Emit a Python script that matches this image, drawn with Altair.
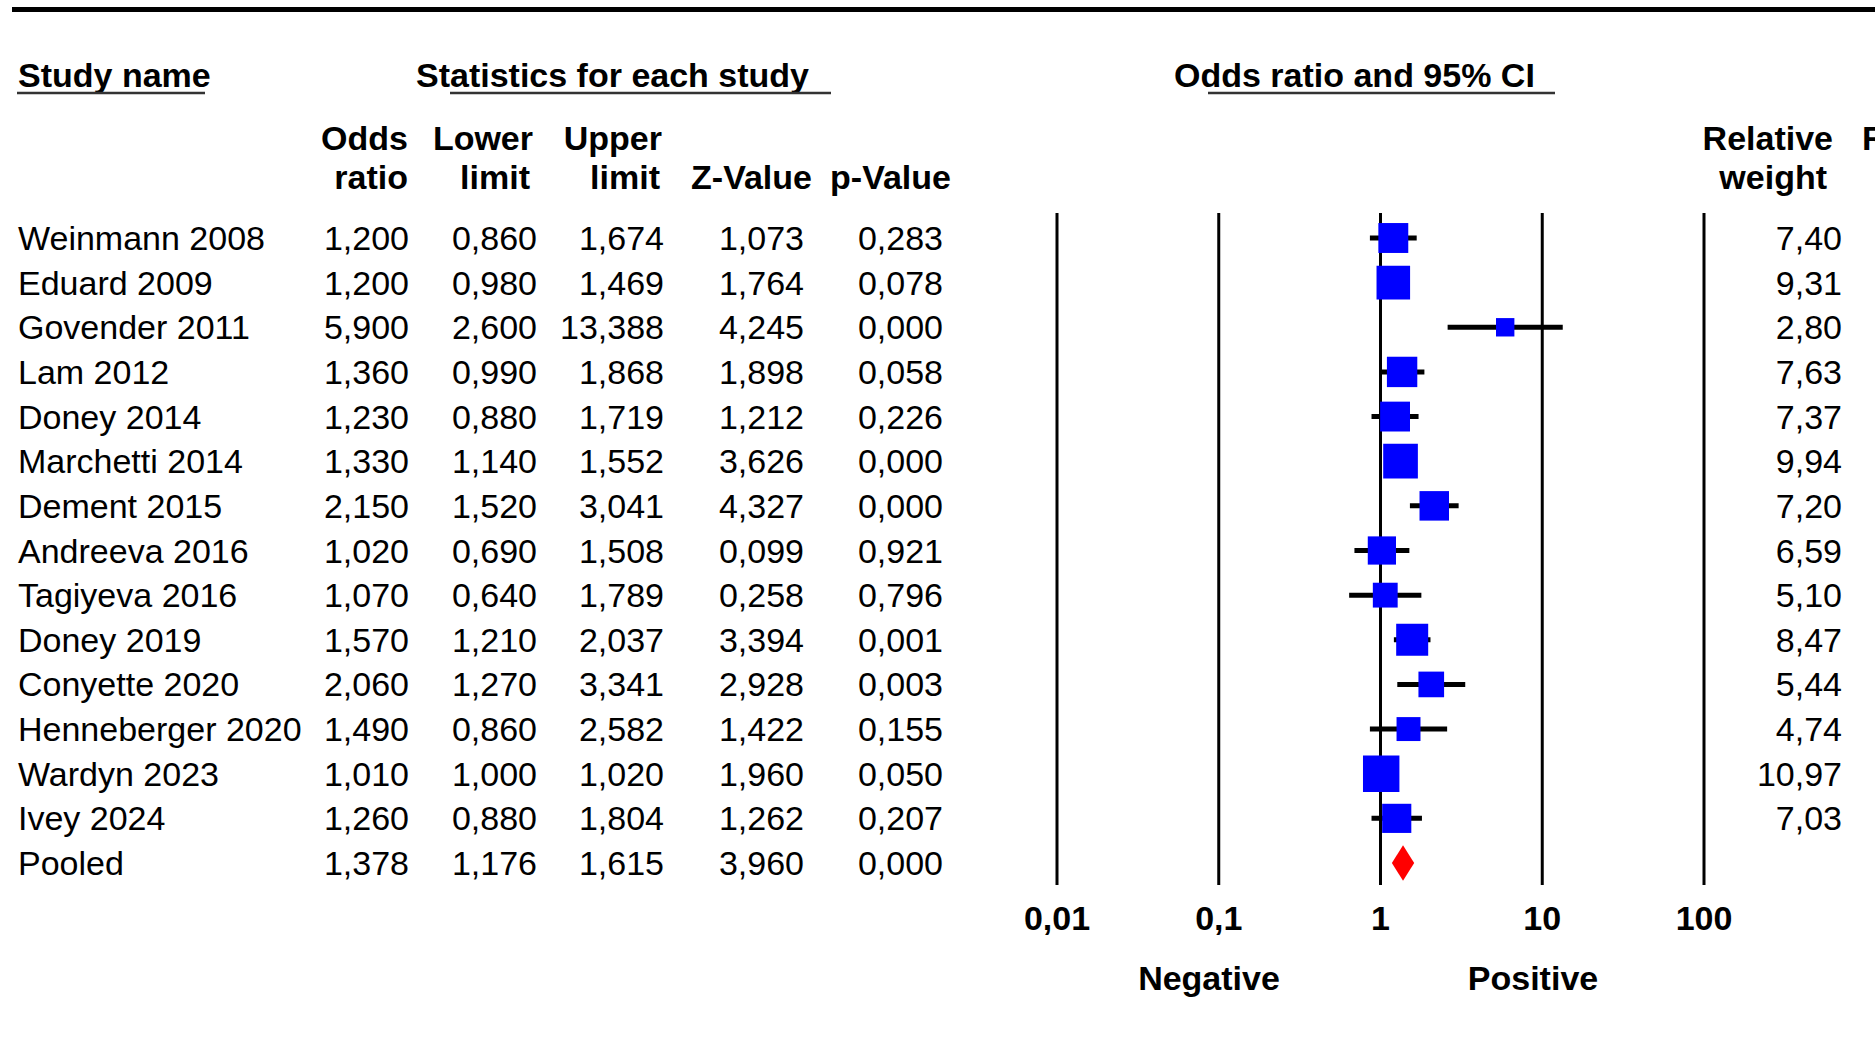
import altair as alt
import pandas as pd

# ---------------- data ----------------
study_names = ["Weinmann 2008", "Eduard 2009", "Govender 2011", "Lam 2012", "Doney 2014",
               "Marchetti 2014", "Dement 2015", "Andreeva 2016", "Tagiyeva 2016", "Doney 2019",
               "Conyette 2020", "Henneberger 2020", "Wardyn 2023", "Ivey 2024", "Pooled"]
odds_ratio = [1.200, 1.200, 5.900, 1.360, 1.230, 1.330, 2.150, 1.020, 1.070, 1.570,
              2.060, 1.490, 1.010, 1.260, 1.378]
lower_limit = [0.860, 0.980, 2.600, 0.990, 0.880, 1.140, 1.520, 0.690, 0.640, 1.210,
               1.270, 0.860, 1.000, 0.880, 1.176]
upper_limit = [1.674, 1.469, 13.388, 1.868, 1.719, 1.552, 3.041, 1.508, 1.789, 2.037,
               3.341, 2.582, 1.020, 1.804, 1.615]
z_value = [1.073, 1.764, 4.245, 1.898, 1.212, 3.626, 4.327, 0.099, 0.258, 3.394,
           2.928, 1.422, 1.960, 1.262, 3.960]
p_value = [0.283, 0.078, 0.000, 0.058, 0.226, 0.000, 0.000, 0.921, 0.796, 0.001,
           0.003, 0.155, 0.050, 0.207, 0.000]
rel_weight = [7.40, 9.31, 2.80, 7.63, 7.37, 9.94, 7.20, 6.59, 5.10, 8.47,
              5.44, 4.74, 10.97, 7.03]

tick_values = [0.01, 0.1, 1, 10, 100]
tick_labels = ["0,01", "0,1", "1", "10", "100"]


def fmt(v, d=3):
    return f"{v:.{d}f}".replace(".", ",")


n = len(study_names)
df = pd.DataFrame({
    "row": list(range(n)),
    "name": study_names,
    "or": odds_ratio,
    "lo": lower_limit,
    "hi": upper_limit,
    "or_t": [fmt(v) for v in odds_ratio],
    "lo_t": [fmt(v) for v in lower_limit],
    "hi_t": [fmt(v) for v in upper_limit],
    "z_t": [fmt(v) for v in z_value],
    "p_t": [fmt(v) for v in p_value],
    "w": rel_weight + [None],
    "w_t": [fmt(v, 2) for v in rel_weight] + [""],
})
studies = df[df["name"] != "Pooled"]
pooled = df[df["name"] == "Pooled"].iloc[0]

# diamond polygon built from pooled lower / estimate / upper
half_h = 0.40
diamond = pd.DataFrame({
    "x": [pooled["lo"], pooled["or"], pooled["hi"]],
    "y": [pooled["row"], pooled["row"] - half_h, pooled["row"]],
    "y2": [pooled["row"], pooled["row"] + half_h, pooled["row"]],
})
ticks = pd.DataFrame({"v": tick_values, "label": tick_labels})

# ---------------- scales ----------------
FONT = "Liberation Sans"
FS = 34
xscale = alt.Scale(type="log", domain=[0.01, 100], range=[1057, 1704])
yscale = alt.Scale(domain=[0, n - 1], range=[238, 863])
X = lambda f: alt.X(f, scale=xscale, axis=None)
Y = lambda f: alt.Y(f, scale=yscale, axis=None)

base = alt.Chart(df)

layers = []

# top thick rule
layers.append(alt.Chart(pd.DataFrame({"a": [0]})).mark_rule(color="black", strokeWidth=5).encode(
    x=alt.value(12), x2=alt.value(1875), y=alt.value(9.5)))

# vertical reference lines at decades
layers.append(alt.Chart(ticks).mark_rule(color="black", strokeWidth=3).encode(
    x=X("v:Q"), y=alt.value(213), y2=alt.value(885)))

# CI lines
layers.append(alt.Chart(studies).mark_rule(color="black", strokeWidth=5).encode(
    x=X("lo:Q"), x2="hi:Q", y=Y("row:Q")))

# squares
layers.append(alt.Chart(studies).mark_square(color="#0000ff", opacity=1, strokeWidth=0).encode(
    x=X("or:Q"), y=Y("row:Q"),
    size=alt.Size("w:Q", scale=alt.Scale(type="linear", domain=[0, 11], range=[0, 1331]), legend=None)))

# pooled diamond
layers.append(alt.Chart(diamond).mark_area(color="#ff0000", opacity=1).encode(
    x=X("x:Q"), y=Y("y:Q"), y2="y2:Q"))

# tick labels
layers.append(alt.Chart(ticks).mark_text(font=FONT, fontSize=FS, fontWeight="bold",
                                          baseline="alphabetic", align="center", color="black").encode(
    x=X("v:Q"), y=alt.value(930), text="label:N"))

# table columns
def col(field, xpos, align="right"):
    return base.mark_text(font=FONT, fontSize=FS, align=align, baseline="alphabetic",
                          dy=12, color="black").encode(
        x=alt.value(xpos), y=Y("row:Q"), text=f"{field}:N")

layers += [col("name", 18, "left"), col("or_t", 409), col("lo_t", 537), col("hi_t", 664),
           col("z_t", 804), col("p_t", 943), col("w_t", 1842)]

# headers
one = pd.DataFrame({"a": [0]})


def header(txt, xpos, ypos, align="left"):
    return alt.Chart(one).mark_text(text=txt, font=FONT, fontSize=FS, fontWeight="bold",
                                    align=align, baseline="alphabetic", color="black").encode(
        x=alt.value(xpos), y=alt.value(ypos))


def underline(x1, x2, ypos):
    return alt.Chart(one).mark_rule(color="#333333", strokeWidth=2.5).encode(
        x=alt.value(x1), x2=alt.value(x2), y=alt.value(ypos))


R1, R2 = 150, 189
layers += [
    header("Study name", 18, 87), underline(17, 205, 93),
    header("Statistics for each study", 416, 87), underline(450, 831, 93),
    header("Odds ratio and 95% CI", 1174, 87), underline(1208, 1555, 93),
    header("Odds", 408, R1, "right"), header("ratio", 408, R2, "right"),
    header("Lower", 533, R1, "right"), header("limit", 530, R2, "right"),
    header("Upper", 662, R1, "right"), header("limit", 660, R2, "right"),
    header("Z-Value", 812, R2, "right"), header("p-Value", 951, R2, "right"),
    header("Relative", 1833, R1, "right"), header("weight", 1827, R2, "right"),
    header("R", 1862, R1, "left"),
    header("Negative", 1209, 990, "center"), header("Positive", 1533, 990, "center"),
]

chart = alt.layer(*layers).properties(
    width=1875, height=1037, autosize=alt.AutoSizeParams(type="none"), padding=0,
    background="white",
).configure_view(stroke=None)

chart.save("out.html", embed_options={"renderer": "svg", "actions": False})
